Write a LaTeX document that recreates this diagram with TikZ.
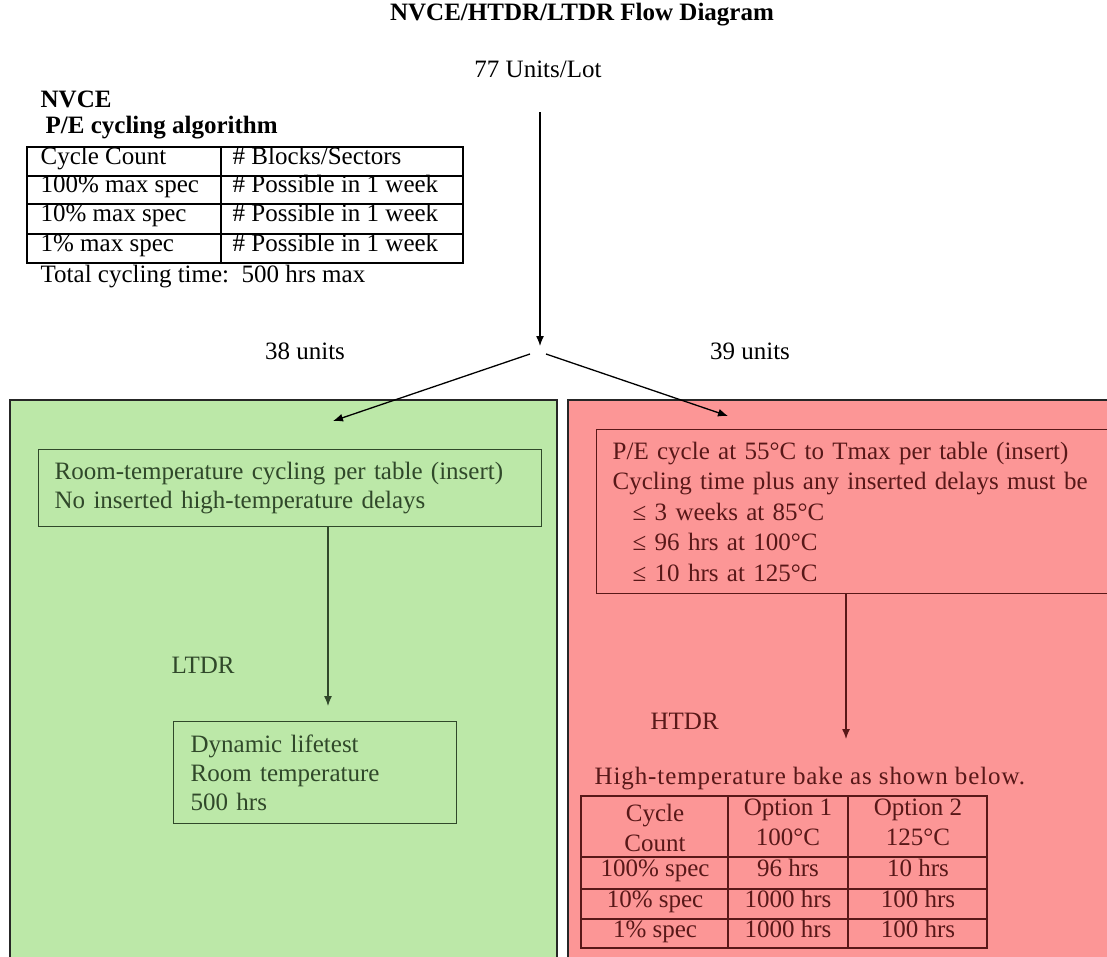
\documentclass[tikz,border=0pt]{standalone}
\usepackage{fontspec}
\setmainfont{Liberation Serif}
\usetikzlibrary{positioning,arrows,arrows.meta}

\definecolor{lowbg}{RGB}{188,232,168}
\definecolor{highbg}{RGB}{252,150,150}
\definecolor{lowink}{RGB}{48,72,42}
\definecolor{highink}{RGB}{88,24,24}

\begin{document}
\begin{tikzpicture}[x=1pt, y=-1pt, line width=1.3pt, >={Latex[length=10pt,width=8pt]},
    word/.style={inner sep=0pt, text height=1.6ex, text depth=.3ex, font=\fontsize{25}{30}\selectfont},
    heading/.style={word, font=\fontsize{25}{30}\selectfont\bfseries},
    cell/.style={word, anchor=west},
    lowbox/.style={rectangle, draw=lowink, text=lowink, anchor=north west, align=left,
        inner xsep=16pt, inner ysep=0pt, font=\fontsize{25}{29}\selectfont},
    highbox/.style={rectangle, draw=highink, text=highink, anchor=north west, align=left,
        inner xsep=16pt, inner ysep=0pt, font=\fontsize{25}{30.5}\selectfont},
    region/.style={draw=black!85, line width=1.8pt}
]
\useasboundingbox (0,0) rectangle (1107,956);

% the two regions
\fill[lowbg] (10,400) rectangle (557,970);
\fill[highbg] (568,400) rectangle (1120,970);
\draw[region] (10,970) -- (10,400) -- (557,400) -- (557,970);
\draw[region] (568,970) -- (568,400) -- (1120,400);

% top part
\node [heading] (title) at (582,18) {NVCE/HTDR/LTDR Flow Diagram};
\node [word] (lot) at (538,75) {77 Units/Lot};
\node [heading, anchor=west] (nvce) at (40,105) {NVCE};
\node [heading, anchor=west] (algo) at (45,131) {P/E cycling algorithm};

\draw (27,147) rectangle (463,263);
\draw (221,147) -- (221,263);
\foreach \y in {176,204,234}
    \draw (27,\y) -- (463,\y);
\foreach \y/\count/\blocks [count=\r] in {161.5/{Cycle Count}/{\# Blocks/Sectors},
        190/{100\% max spec}/{\# Possible in 1 week},
        219/{10\% max spec}/{\# Possible in 1 week},
        248.5/{1\% max spec}/{\# Possible in 1 week}} {
    \node [cell] (count\r) at (40,\y) {\count};
    \node [cell] (blocks\r) at (232,\y) {\blocks};
}
\node [cell] (total) at (40,280) {Total cycling time:\ \ 500 hrs max};

% split of the lot
\coordinate (lotfoot) at (540,112);
\coordinate (forkin) at (540,346);
\coordinate (forkL) at (530,354);
\coordinate (forkR) at (546,354);
\coordinate (lowin) at (333,421);
\coordinate (highin) at (728,416);
\draw[->] (lotfoot) -- (forkin);
\draw[->] (forkL) -- (lowin);
\draw[->] (forkR) -- (highin);
\node [word] (units38) at (305,357) {38 units};
\node [word] (units39) at (750,357) {39 units};

% LTDR branch
\node [lowbox, text width=471pt, minimum height=77pt] (room) at (38,449)
    {Room-temperature cycling per table (insert)\\No inserted high-temperature delays};
\node [word, anchor=west, text=lowink] (ltdr) at (171,671) {LTDR};
\node [lowbox, text width=249pt, inner xsep=17pt, minimum height=102pt] (life) at (173,721)
    {Dynamic lifetest\\Room temperature\\500 hrs};
\coordinate (lifein) at (328,706);
\draw[->, lowink] (room.south -| lifein) -- (lifein);

% HTDR branch
\node [highbox, text width=492pt, minimum height=164pt] (hot) at (596,429)
    {P/E cycle at 55°C to Tmax per table (insert)\\
     Cycling time plus any inserted delays must be\\
     \hspace*{20pt}≤ 3 weeks at 85°C\\
     \hspace*{20pt}≤ 96 hrs at 100°C\\
     \hspace*{20pt}≤ 10 hrs at 125°C};
\node [word, anchor=west, text=highink] (htdr) at (650,727) {HTDR};
\coordinate (bakein) at (846,739);
\draw[->, highink] (hot.south -| bakein) -- (bakein);
\node [word, anchor=west, text=highink] (bake) at (594,782)
    {\addfontfeature{LetterSpace=3.6}High-temperature bake as shown below.};

\draw[highink] (581,796) rectangle (987,948);
\foreach \y in {857,889,919}
    \draw[highink] (581,\y) -- (987,\y);
\foreach \x in {728,848}
    \draw[highink] (\x,796) -- (\x,948);
\node [word, text=highink, align=center, text height=, text depth=, font=\fontsize{25}{30}\selectfont] (cyclecount) at (655,828) {Cycle\\Count};
\node [word, text=highink] (opt1) at (788,813) {Option 1};
\node [word, text=highink] (opt1temp) at (788,843) {100°C};
\node [word, text=highink] (opt2) at (918,813) {Option 2};
\node [word, text=highink] (opt2temp) at (918,843) {125°C};
\foreach \y/\spec/\one/\two [count=\r] in {873/{100\% spec}/{96 hrs}/{10 hrs},
        904/{10\% spec}/{1000 hrs}/{100 hrs},
        934/{1\% spec}/{1000 hrs}/{100 hrs}} {
    \node [word, text=highink] (spec\r) at (655,\y) {\spec};
    \node [word, text=highink] (one\r) at (788,\y) {\one};
    \node [word, text=highink] (two\r) at (918,\y) {\two};
}
\end{tikzpicture}
\end{document}
